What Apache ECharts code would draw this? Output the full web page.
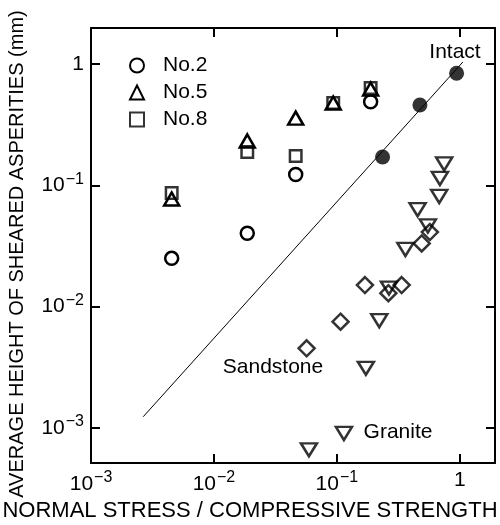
<!DOCTYPE html>
<html>
<head>
<meta charset="utf-8">
<script src="https://cdn.jsdelivr.net/npm/echarts@6/dist/echarts.min.js"></script>
<style>
html,body{margin:0;padding:0;background:#fff;}
#chart{width:500px;height:525px;}
</style>
</head>
<body>
<div id="chart"></div>
<script>
// Axis ranges
const xRange = [0.001, 1.93];
const yRange = [5.14e-4, 1.98];

// Joint series (No.2, No.5, No.8)
const no2X = [0.00453, 0.01866, 0.0462, 0.188];
const no2Y = [0.0250, 0.0402, 0.1228, 0.489];
const no5X = [0.00453, 0.01866, 0.0462, 0.0933, 0.188];
const no5Y = [0.0771, 0.232, 0.358, 0.477, 0.622];
const no8X = [0.00453, 0.01866, 0.0462, 0.0933, 0.188];
const no8Y = [0.0864, 0.188, 0.1745, 0.477, 0.634];

// Intact rock
const intactX = [0.235, 0.473, 0.94];
const intactY = [0.171, 0.459, 0.838];
const lineX = [0.00266, 1.058];
const lineY = [0.001237, 1.039];

// Sandstone (diamonds)
const sandX = [0.570, 0.489, 0.169, 0.336, 0.262, 0.107, 0.0567];
const sandY = [0.0412, 0.0332, 0.01507, 0.01507, 0.0129, 0.00751, 0.00453];

// Granite (inverted triangles)
const graniteX = [0.745, 0.688, 0.679, 0.453, 0.549, 0.3605, 0.265, 0.221, 0.172, 0.114, 0.0592];
const graniteY = [0.150, 0.114, 0.0809, 0.0629, 0.0462, 0.0296, 0.01423, 0.00765, 0.0031, 0.00090, 0.00066];

const legendNames = ['No.2', 'No.5', 'No.8'];
const xTitle = 'NORMAL STRESS / COMPRESSIVE STRENGTH';
const yTitle = 'AVERAGE HEIGHT OF SHEARED ASPERITIES (mm)';
const annotations = ['Intact', 'Sandstone', 'Granite'];

const zip = (xs, ys) => xs.map((x, i) => [x, ys[i]]);
const FONT = '"Liberation Sans", Arial, sans-serif';

function powLabel(v) {
  const l = Math.log10(v);
  const r = Math.round(l);
  if (Math.abs(l - r) > 1e-6) return '';
  if (r === 0) return '{b|1}';
  return '{b|10}{s|' + (r < 0 ? '\u2212' : '') + Math.abs(r) + '}';
}
const rich = {
  b: {fontSize: 21, fontFamily: FONT, color: '#000'},
  s: {fontSize: 16, fontFamily: FONT, color: '#000', padding: [0, 0, 12, 1]}
};

function axisBase(extra) {
  return Object.assign({
    type: 'log',
    logBase: 10,
    axisLine: {show: true, lineStyle: {color: '#000', width: 2}},
    axisTick: {show: true, inside: true, length: 9, lineStyle: {color: '#000', width: 2}},
    minorTick: {show: false},
    splitLine: {show: false},
    axisLabel: {show: false}
  }, extra);
}

const openStyle = {color: '#fff', borderColor: '#000', borderWidth: 2.5, opacity: 1};
const hollowStyle = {color: 'rgba(0,0,0,0)', borderColor: '#000', borderWidth: 2.5};

const chart = echarts.init(document.getElementById('chart'), null, {renderer: 'canvas'});
chart.setOption({
  animation: false,
  backgroundColor: '#fff',
  grid: {left: 91, right: 5, top: 28, bottom: 62, containLabel: false},
  xAxis: [
    axisBase({min: xRange[0], max: xRange[1], position: 'bottom',
      axisLabel: {show: true, margin: 7, formatter: powLabel, rich: rich}}),
    axisBase({min: xRange[0], max: xRange[1], position: 'top'})
  ],
  yAxis: [
    axisBase({min: yRange[0], max: yRange[1], position: 'left',
      axisLabel: {show: true, margin: 7, formatter: powLabel, rich: rich}}),
    axisBase({min: yRange[0], max: yRange[1], position: 'right'})
  ],
  legend: {
    data: legendNames,
    orient: 'vertical',
    left: 124,
    top: 50,
    itemWidth: 14,
    itemHeight: 14,
    itemGap: 6,
    textStyle: {fontSize: 21, fontFamily: FONT, color: '#000', padding: [0, 0, 0, 14]}
  },
  series: [
    {
      name: 'Intact line', type: 'line', data: zip(lineX, lineY),
      symbol: 'none', lineStyle: {color: '#000', width: 1}, silent: true, z: 1
    },
    {
      name: 'No.2', type: 'scatter', data: zip(no2X, no2Y),
      symbol: 'circle', symbolSize: 13, itemStyle: openStyle, z: 3
    },
    {
      name: 'No.5', type: 'scatter', data: zip(no5X, no5Y),
      symbol: 'triangle', symbolSize: [15, 13], itemStyle: openStyle, z: 3
    },
    {
      name: 'No.8', type: 'scatter', data: zip(no8X, no8Y),
      symbol: 'rect', symbolSize: 11.5, itemStyle: hollowStyle, z: 4
    },
    {
      name: 'Intact', type: 'scatter', data: zip(intactX, intactY),
      symbol: 'circle', symbolSize: 15, itemStyle: {color: '#000'}, z: 3
    },
    {
      name: 'Sandstone', type: 'scatter', data: zip(sandX, sandY),
      symbol: 'diamond', symbolSize: 16, itemStyle: hollowStyle, z: 3
    },
    {
      name: 'Granite', type: 'scatter', data: zip(graniteX, graniteY),
      symbol: 'triangle', symbolRotate: 180, symbolSize: [16, 13],
      itemStyle: hollowStyle, z: 3
    }
  ],
  graphic: [
    {type: 'text', x: 17, y: 254, rotation: Math.PI / 2,
      style: {text: yTitle, font: '20px ' + FONT, fill: '#000', align: 'center', verticalAlign: 'middle'}},
    {type: 'text', x: 250, y: 511,
      style: {text: xTitle, font: '22px ' + FONT, fill: '#000', align: 'center', verticalAlign: 'middle'}},
    {type: 'text', x: 455, y: 52,
      style: {text: annotations[0], font: '21px ' + FONT, fill: '#000', align: 'center', verticalAlign: 'middle'}},
    {type: 'text', x: 273, y: 367,
      style: {text: annotations[1], font: '21px ' + FONT, fill: '#000', align: 'center', verticalAlign: 'middle'}},
    {type: 'text', x: 398, y: 432,
      style: {text: annotations[2], font: '21px ' + FONT, fill: '#000', align: 'center', verticalAlign: 'middle'}}
  ]
});
</script>
</body>
</html>
